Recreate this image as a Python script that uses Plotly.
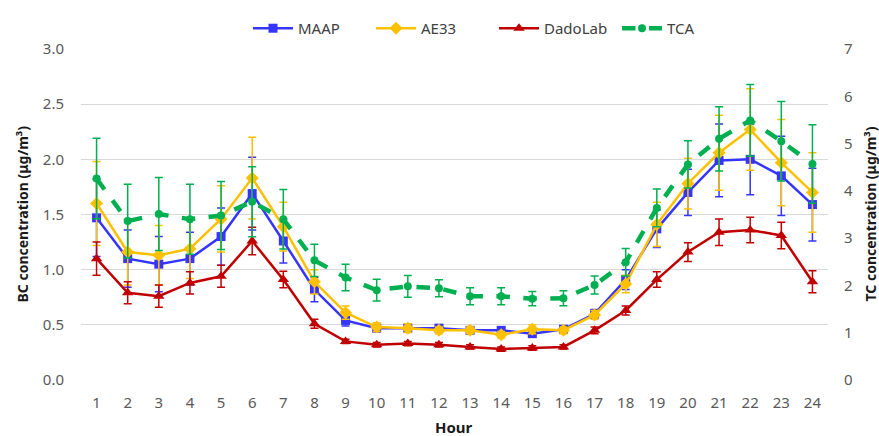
import plotly.graph_objects as go

hours = list(range(1, 25))
hour_labels = [str(h) for h in hours]

maap = [1.47, 1.10, 1.05, 1.10, 1.30, 1.69, 1.26, 0.82, 0.54, 0.47, 0.47, 0.47,
        0.45, 0.45, 0.42, 0.46, 0.60, 0.91, 1.37, 1.70, 1.99, 2.00, 1.85, 1.59]
maap_err = [0.35, 0.26, 0.25, 0.24, 0.26, 0.33, 0.20, 0.11, 0.05, 0.03, 0.03, 0.03,
            0.03, 0.03, 0.03, 0.03, 0.04, 0.09, 0.17, 0.21, 0.33, 0.32, 0.36, 0.33]

ae33 = [1.60, 1.16, 1.13, 1.19, 1.46, 1.83, 1.39, 0.89, 0.61, 0.48, 0.47, 0.45,
        0.45, 0.41, 0.46, 0.45, 0.59, 0.87, 1.41, 1.78, 2.06, 2.27, 1.97, 1.70]
ae33_err = [0.38, 0.30, 0.27, 0.27, 0.30, 0.37, 0.22, 0.11, 0.06, 0.04, 0.04, 0.03,
            0.03, 0.03, 0.04, 0.03, 0.04, 0.08, 0.20, 0.23, 0.34, 0.37, 0.39, 0.36]

dadolab = [1.10, 0.79, 0.76, 0.88, 0.94, 1.26, 0.91, 0.51, 0.35, 0.32, 0.33, 0.32,
           0.30, 0.28, 0.29, 0.30, 0.45, 0.63, 0.91, 1.16, 1.34, 1.36, 1.31, 0.89]
dadolab_err = [0.15, 0.10, 0.10, 0.10, 0.10, 0.125, 0.075, 0.04, 0.02, 0.02, 0.02, 0.02,
               0.02, 0.02, 0.02, 0.02, 0.03, 0.04, 0.07, 0.085, 0.12, 0.115, 0.12, 0.10]

tca = [4.26, 3.36, 3.51, 3.40, 3.48, 3.77, 3.40, 2.53, 2.17, 1.90, 1.98, 1.94,
       1.77, 1.77, 1.72, 1.73, 2.01, 2.49, 3.64, 4.56, 5.10, 5.49, 5.05, 4.57]
tca_err = [0.85, 0.78, 0.77, 0.74, 0.72, 0.74, 0.63, 0.34, 0.28, 0.23, 0.23, 0.18,
           0.18, 0.18, 0.15, 0.16, 0.19, 0.29, 0.40, 0.50, 0.68, 0.76, 0.84, 0.83]

FONT = "Noto Sans"
TITLE_COLOR = "#1a1a1a"

fig = go.Figure()

def add_series(name, y, err, color, symbol, size, width, dash="solid", yaxis="y"):
    fig.add_trace(go.Scatter(
        x=hours, y=y, name=name, mode="lines+markers", yaxis=yaxis,
        line=dict(color=color, width=width, dash=dash),
        marker=dict(color=color, symbol=symbol, size=size),
        error_y=dict(type="data", array=err, visible=True, color=color,
                     thickness=1.5, width=4),
    ))

add_series("MAAP", maap, maap_err, "#3535FF", "square", 9, 2.5)
add_series("AE33", ae33, ae33_err, "#FFC000", "diamond", 10, 2.5)
add_series("DadoLab", dadolab, dadolab_err, "#C00000", "triangle-up", 10, 2.5)
add_series("TCA", tca, tca_err, "#00B050", "circle", 8, 4.5, dash="dash", yaxis="y2")

fig.update_layout(
    width=879, height=436,
    margin=dict(l=81, r=51, t=38, b=56),
    paper_bgcolor="white", plot_bgcolor="white",
    font=dict(family=FONT, size=13, color="#595959"),
    showlegend=True,
    legend=dict(orientation="h", x=(248 - 81) / 747, xanchor="left", y=1.062, yanchor="middle",
                font=dict(family=FONT, size=15, color="#404040"),
                itemwidth=40, traceorder="normal", bgcolor="rgba(0,0,0,0)",
                entrywidth=68),
    xaxis=dict(
        range=[0.5, 24.5], tickmode="array", tickvals=hours, ticktext=hour_labels,
        showgrid=False, zeroline=False, showline=False, ticks="",
        ticklabelstandoff=12,
        tickfont=dict(family=FONT, size=15, color="#595959"),
    ),
    yaxis=dict(
        range=[0, 3], dtick=0.5, tick0=0, tickformat=".1f",
        showgrid=True, gridcolor="#D9D9D9", gridwidth=1.3,
        zeroline=False, showline=False, ticks="",
        ticklabelstandoff=16,
        tickfont=dict(family=FONT, size=15, color="#595959"),
    ),
    yaxis2=dict(
        range=[0, 7], dtick=1, tick0=0, overlaying="y", side="right",
        showgrid=False, zeroline=False, showline=False, ticks="",
        ticklabelstandoff=15,
        tickfont=dict(family=FONT, size=15, color="#595959"),
    ),
    annotations=[
        dict(text="<b>BC concentration (μg/m³)</b>", xref="paper", yref="paper",
             x=(22 - 81) / 747, y=0.5, xanchor="center", yanchor="middle",
             textangle=-90, showarrow=False,
             font=dict(family=FONT, size=14, color=TITLE_COLOR)),
        dict(text="<b>TC concentration (μg/m³)</b>", xref="paper", yref="paper",
             x=(870 - 81) / 747, y=0.5, xanchor="center", yanchor="middle",
             textangle=-90, showarrow=False,
             font=dict(family=FONT, size=14, color=TITLE_COLOR)),
        dict(text="<b>Hour</b>", xref="paper", yref="paper",
             x=(454 - 81) / 747, y=(380 - 429) / 342, xanchor="center", yanchor="middle",
             showarrow=False,
             font=dict(family=FONT, size=15, color=TITLE_COLOR)),
    ],
)

fig.write_html("out.html")
